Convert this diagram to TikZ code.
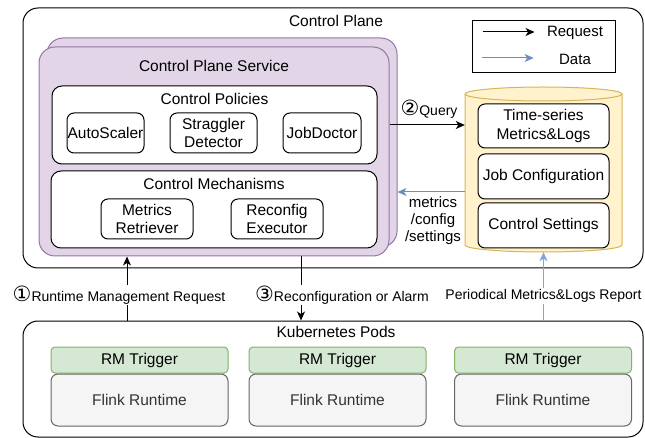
\documentclass[tikz,border=0pt]{standalone}
\usepackage{fontspec}
\setmainfont{Liberation Sans}
\newfontfamily\circfont{DejaVu Sans}[Scale=1.5]
\usetikzlibrary{positioning, arrows.meta}
\usepackage{xcolor}

\definecolor{svcfill}{HTML}{E1D5E7}
\definecolor{svcline}{HTML}{9673A6}
\definecolor{trigfill}{HTML}{D5E8D4}
\definecolor{trigline}{HTML}{82B366}
\definecolor{rtfill}{HTML}{F5F5F5}
\definecolor{rtline}{HTML}{666666}
\definecolor{rttext}{HTML}{333333}
\definecolor{dbfill}{HTML}{FFF2CC}
\definecolor{dbline}{HTML}{D6B656}
\definecolor{dataline}{HTML}{6C8EBF}
\definecolor{reportline}{HTML}{7EA6E0}

\tikzset{
  plane/.style={draw, line width=1pt, rounded corners=15pt, inner sep=0pt},
  layer/.style={draw=svcline, fill=svcfill, line width=1pt, rounded corners=16pt,
    minimum width=350pt, minimum height=209pt, inner sep=0pt},
  group/.style={draw, fill=white, line width=1pt, rounded corners=10pt, inner sep=0pt},
  unit/.style={draw, fill=white, line width=1pt, rounded corners=7pt, inner sep=0pt,
    align=center, minimum height=40pt},
  trigger/.style={draw=trigline, fill=trigfill, line width=1pt, rounded corners=4pt,
    inner sep=0pt, minimum width=177pt, minimum height=26pt},
  runtime/.style={draw=rtline, fill=rtfill, text=rttext, line width=1pt, rounded corners=7pt,
    inner sep=0pt, minimum width=177pt, minimum height=52pt},
  tag/.style={fill=white, inner sep=1pt, font=\fontsize{14}{17}\selectfont},
  req/.style={line width=1pt, -{Stealth[length=9pt, width=8pt, inset=2.5pt]}},
  data/.style={req, draw=dataline},
}

\begin{document}
\begin{tikzpicture}[x=1pt, y=-1pt, font=\fontsize{15.5}{18.5}\selectfont]
\useasboundingbox (0,0) rectangle (645,438);

% control plane
\node[plane, minimum width=620pt, minimum height=260pt] (plane) at (333,138) {};
\node (planetitle) at (336,21) {Control Plane};

% service, with a second copy stacked behind it
\node[layer] (backlayer) at (222,142.5) {};
\node[layer] (service) at (214,151.5) {};
\node (servicetitle) at (214,66) {Control Plane Service};

\node[group, minimum width=325pt, minimum height=78pt] (policies) at (214.5,125) {};
\node (policiestitle) at (214.5,99) {Control Policies};
\node[unit, minimum width=77pt] (scaler) at (105.5,133) {AutoScaler};
\node[unit, minimum width=87pt] (straggler) at (213.5,133) {Straggler\\Detector};
\node[unit, minimum width=78pt] (doctor) at (322,133) {JobDoctor};

\node[group, minimum width=326pt, minimum height=77pt] (mechanisms) at (214,209.5) {};
\node (mechanismstitle) at (214,184) {Control Mechanisms};
\node[unit, minimum width=92pt] (retriever) at (147,219) {Metrics\\Retriever};
\node[unit, minimum width=92pt] (executor) at (277,219) {Reconfig\\Executor};

% legend
\node[draw, line width=1pt, minimum width=143pt, minimum height=52pt, inner sep=0pt] (legend) at (543.5,47) {};
\node[font=\fontsize{15}{18}\selectfont] (reqtxt) at (575,33) {Request};
\node[font=\fontsize{15}{18}\selectfont] (datatxt) at (575,59) {Data};
\draw[req] ([xshift=-61pt, yshift=1pt]reqtxt.west) -- ([xshift=-9pt, yshift=1pt]reqtxt.west);
\draw[data] ([xshift=-74pt, yshift=1pt]datatxt.west) -- ([xshift=-22pt, yshift=1pt]datatxt.west);

% storage cylinder
\path[fill=dbfill, draw=dbline, line width=1pt] (465,94) -- (465,245)
  arc[start angle=180, end angle=0, x radius=78.5, y radius=7] -- (622,94);
\draw[fill=dbfill, draw=dbline, line width=1pt] (543.5,94) ellipse[x radius=78.5, y radius=7];
\node[minimum width=157pt, minimum height=165pt, inner sep=0pt] (store) at (543.5,169.5) {};
\node[unit, minimum width=131pt, minimum height=44pt] (series) at (543.5,126) {Time-series\\Metrics\&Logs};
\node[unit, minimum width=131pt, minimum height=45pt] (jobconf) at (543.5,176.5) {Job Configuration};
\node[unit, minimum width=131pt, minimum height=45pt] (settings) at (543.5,225.5) {Control Settings};

% kubernetes pods
\node[plane, minimum width=620pt, minimum height=116pt] (pods) at (333,379) {};
\node (podstitle) at (336,332) {Kubernetes Pods};
\node[trigger] (rm1) at (139.5,360) {RM Trigger};
\node[runtime, below=0pt of rm1] (flink1) {Flink Runtime};
\node[trigger] (rm2) at (337.5,360) {RM Trigger};
\node[runtime, below=0pt of rm2] (flink2) {Flink Runtime};
\node[trigger] (rm3) at (543,360) {RM Trigger};
\node[runtime, below=0pt of rm3] (flink3) {Flink Runtime};

% connectors
\coordinate (upx) at (127,0);
\coordinate (downx) at (301,0);
\coordinate (backy) at (0,192);
\draw[req] (policies -| service.east) -- (policies -| store.west);
\draw[data] (backy -| store.west) -- (backy -| backlayer.east);
\draw[req] (pods.north -| upx) -- (service.south -| upx);
\draw[req] (service.south -| downx) -- (pods.north -| downx);
\draw[req, draw=reportline] (pods.north -| store.south) -- (store.south);

% labels
\node[font=\fontsize{14}{17}\selectfont] (querytag) at (429,109) {{\circfont ②}Query};
\node[align=center, font=\fontsize{15}{17}\selectfont] (datatag) at (433,221) {metrics\\/config\\/settings};
\node[tag] (requesttag) at (119,295) {{\circfont ①}Runtime Management Request};
\node[tag] (alarmtag) at (342,295) {{\circfont ③}Reconfiguration or Alarm};
\node[tag] (reporttag) at (543.5,296) {Periodical Metrics\&Logs Report};

\end{tikzpicture}
\end{document}
